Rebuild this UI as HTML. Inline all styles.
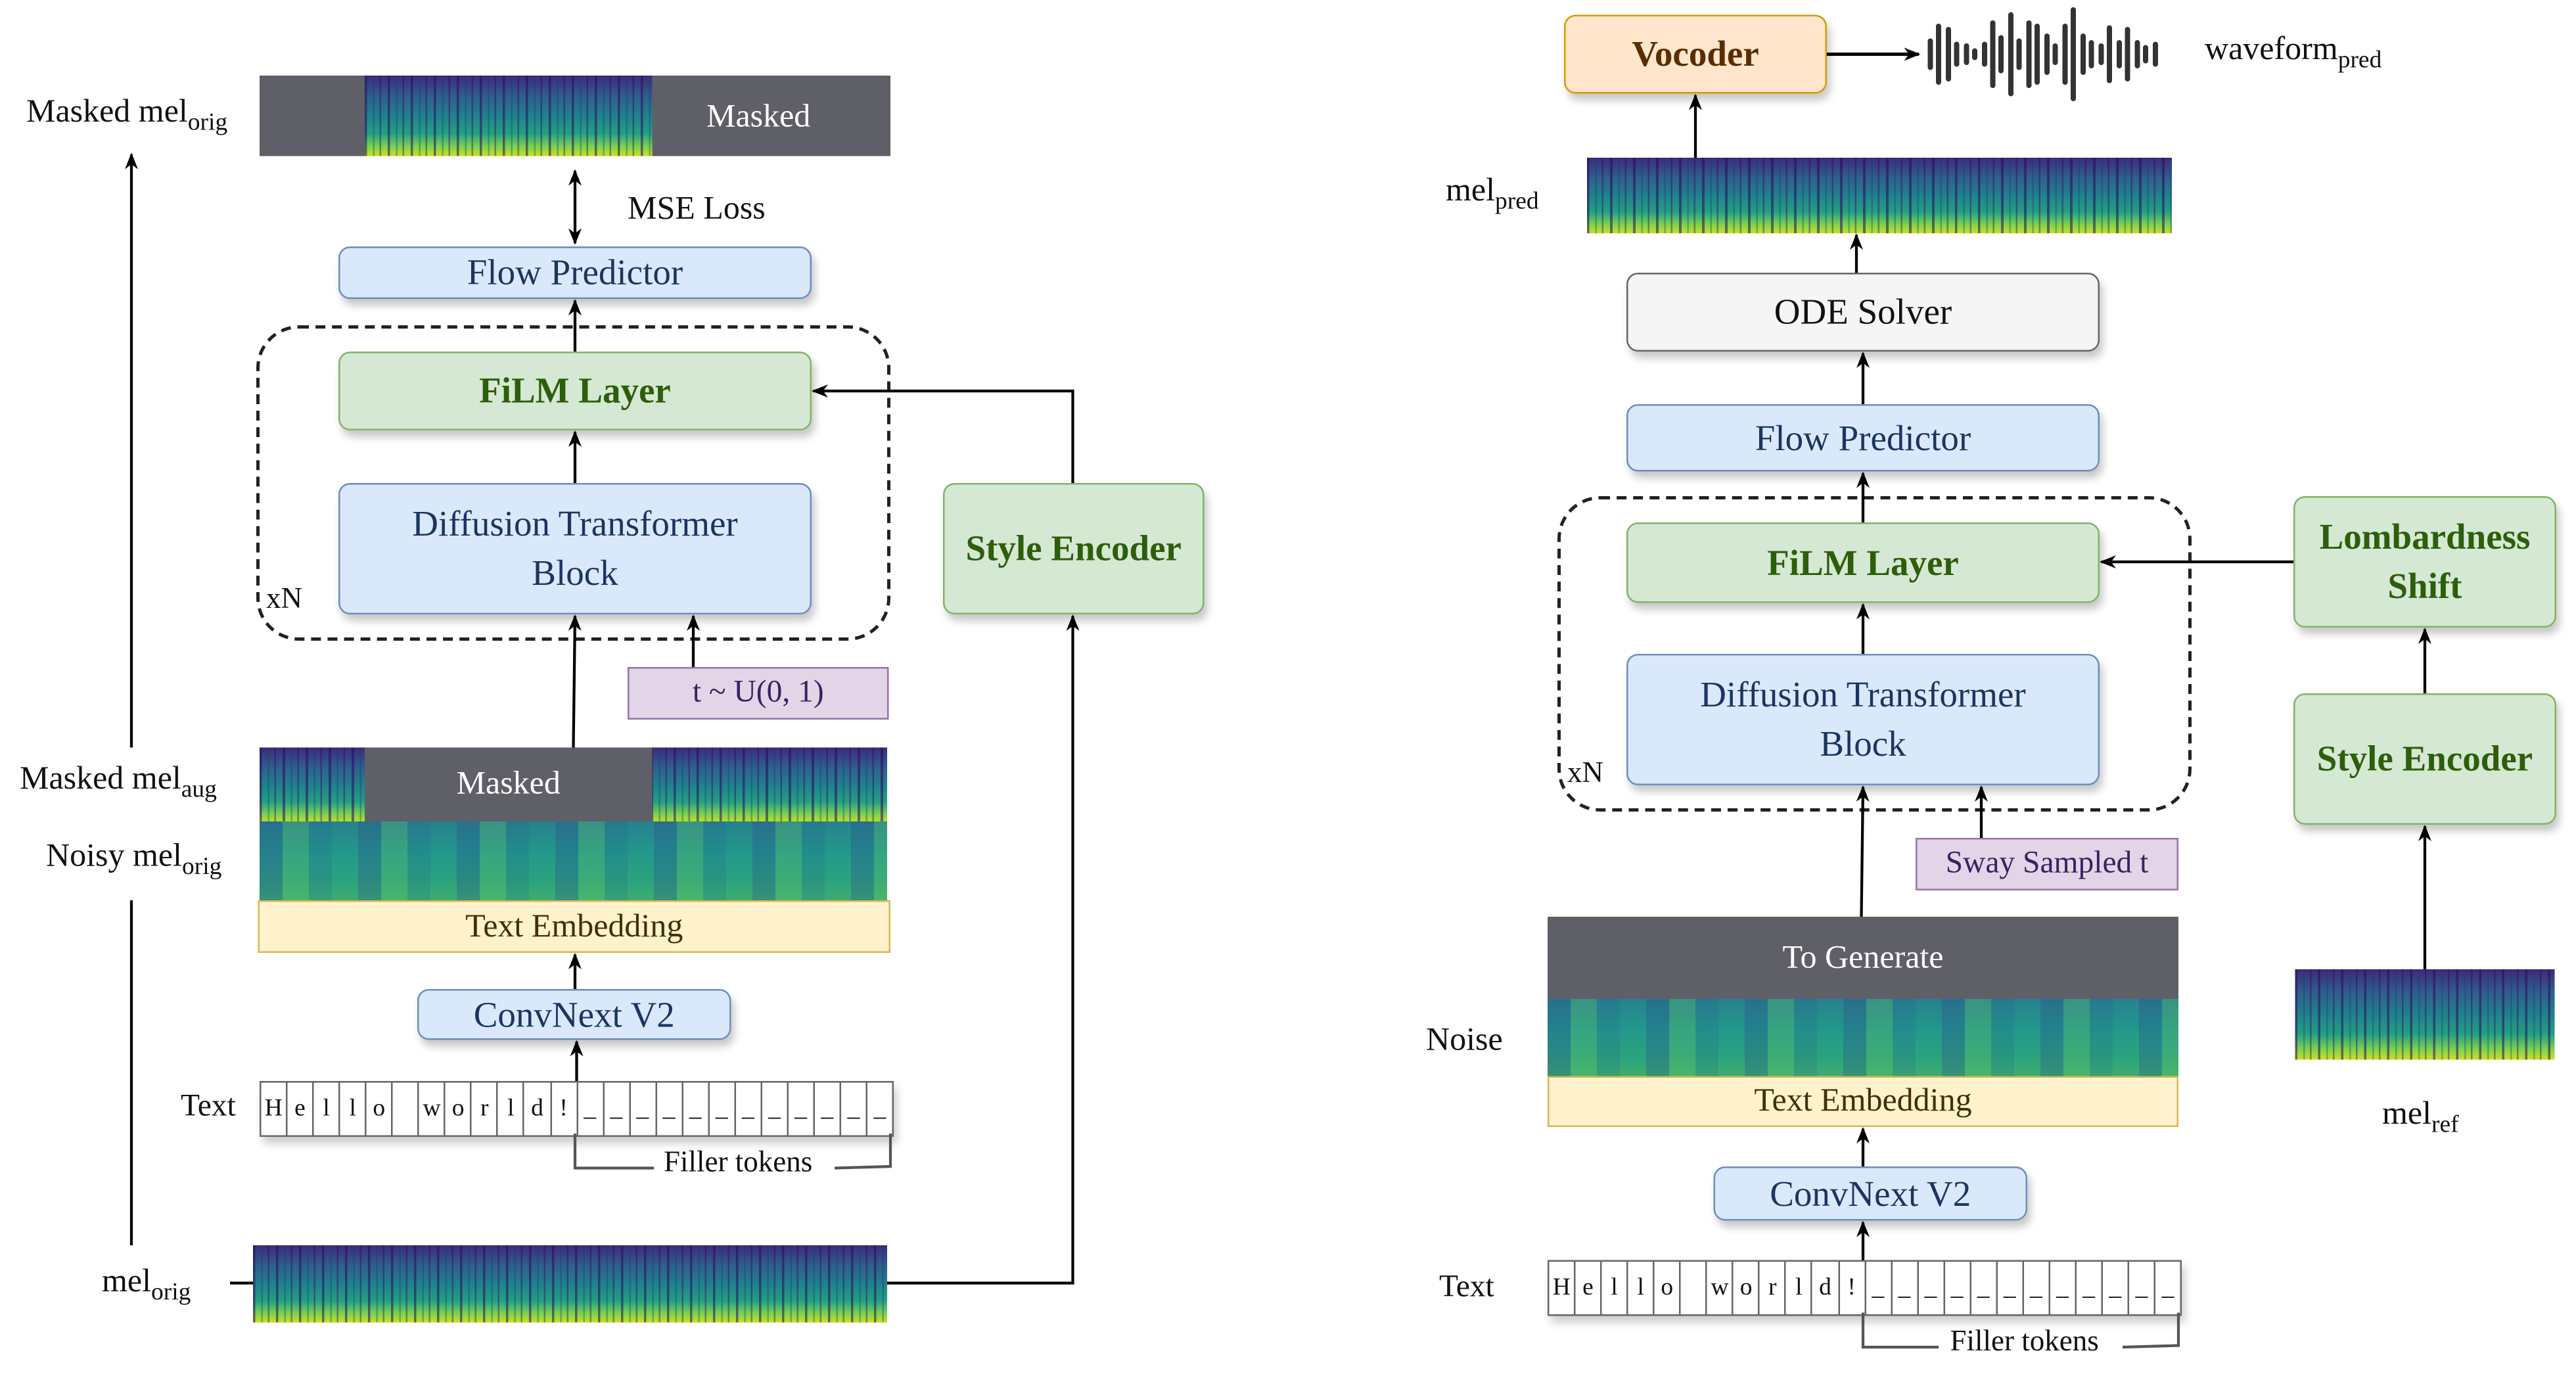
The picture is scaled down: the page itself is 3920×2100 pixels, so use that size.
<!DOCTYPE html>
<html><head><meta charset="utf-8"><style>
html,body{margin:0;padding:0;background:#fff;}
#wrap{width:3920px;height:2100px;overflow:hidden;position:relative;background:#fff;}
#c{position:absolute;left:0;top:0;width:1568px;height:840px;transform:scale(2.5);transform-origin:0 0;font-family:"Liberation Serif",serif;}
.a{position:absolute;box-sizing:border-box;}
.box{position:absolute;box-sizing:border-box;border-radius:7px;display:flex;align-items:center;justify-content:center;text-align:center;box-shadow:2px 4px 5px rgba(0,0,0,.22);line-height:1.35;}
.blue{background:#dae8fc;border:1.5px solid #6c8ebf;color:#1b355f;font-size:22px;}
.green{background:#d5e8d4;border:1.5px solid #82b366;color:#2d5e0a;font-size:22px;font-weight:bold;}
.purple{background:#e1d5e7;border:1.5px solid #9673a6;color:#3c2060;font-size:19px;border-radius:0;box-shadow:none;}
.yellow{background:#fff2cc;border:1.5px solid #d6b656;color:#3d3300;font-size:20px;border-radius:0;box-shadow:none;}
.lbl{position:absolute;font-size:20px;color:#111;white-space:nowrap;}
.lbl sub{font-size:15px;vertical-align:-5px;}
.spec{position:absolute;background:
 repeating-linear-gradient(90deg,rgba(40,10,90,.55) 0 1.5px,transparent 1.5px 5px,rgba(20,60,110,.35) 5px 6px,transparent 6px 9px,rgba(50,0,90,.4) 9px 10px,transparent 10px 14px),
 linear-gradient(180deg,#3d2a7a 0%,#2f5d8c 25%,#21808c 50%,#23a083 72%,#7ad151 88%,#c8e020 100%);}
.noisy{position:absolute;background:
 repeating-linear-gradient(90deg,rgba(40,60,140,.25) 0 14px,rgba(120,210,90,.22) 14px 30px,rgba(30,80,140,.15) 30px 44px,transparent 44px 60px),
 linear-gradient(180deg,#27818e 0%,#239a8a 45%,#2ba27e 75%,#3cae6e 100%);}
.dark{position:absolute;background:#5f5f68;color:#fff;font-size:20px;display:flex;align-items:center;justify-content:center;}
.cells{position:absolute;display:flex;border:1.5px solid #666;box-shadow:2px 4px 5px rgba(0,0,0,.2);background:#fff;}
.cells span{flex:1;border-right:1.5px solid #666;font-size:15px;display:flex;align-items:center;justify-content:center;color:#111;}
.cells span:last-child{border-right:none;}
.dash{position:absolute;box-sizing:border-box;border:2px dashed #222;border-radius:26px;}
</style></head><body><div id="wrap"><div id="c">

<!-- LEFT -->
<div class="dark" style="left:158px;top:46px;width:384px;height:49px;"><span style="position:absolute;left:272px;top:14px;">Masked</span></div>
<div class="spec" style="left:222px;top:46px;width:175px;height:49px;"></div>
<div class="lbl" style="left:16px;top:57px;">Masked mel<sub>orig</sub></div>
<div class="lbl" style="left:382px;top:116px;">MSE Loss</div>

<div class="box blue" style="left:206px;top:150px;width:288px;height:32px;">Flow Predictor</div>
<div class="dash" style="left:156px;top:198px;width:386px;height:192px;"></div>
<div class="box green" style="left:206px;top:214px;width:288px;height:48px;">FiLM Layer</div>
<div class="box blue" style="left:206px;top:294px;width:288px;height:80px;">Diffusion Transformer<br>Block</div>
<div class="lbl" style="left:162px;top:354px;font-size:18px;">xN</div>
<div class="box green" style="left:574px;top:294px;width:159px;height:80px;">Style Encoder</div>
<div class="box purple" style="left:382px;top:406px;width:159px;height:32px;">t ~ U(0, 1)</div>

<div class="spec" style="left:158px;top:455px;width:382px;height:46px;"></div>
<div class="dark" style="left:222px;top:455px;width:175px;height:45px;">Masked</div>
<div class="noisy" style="left:158px;top:500px;width:382px;height:48px;"></div>
<div class="lbl" style="left:12px;top:463px;">Masked mel<sub>aug</sub></div>
<div class="lbl" style="left:28px;top:510px;">Noisy mel<sub>orig</sub></div>
<div class="box yellow" style="left:157px;top:548px;width:385px;height:32px;">Text Embedding</div>
<div class="box blue" style="left:254px;top:602px;width:191px;height:31px;">ConvNext V2</div>
<div class="lbl" style="left:110px;top:663px;font-size:19px;">Text</div>
<div class="cells" style="left:158px;top:658px;width:384px;height:32px;">
<span>H</span><span>e</span><span>l</span><span>l</span><span>o</span><span></span><span>w</span><span>o</span><span>r</span><span>l</span><span>d</span><span>!</span><span>_</span><span>_</span><span>_</span><span>_</span><span>_</span><span>_</span><span>_</span><span>_</span><span>_</span><span>_</span><span>_</span><span>_</span></div>
<div class="lbl" style="left:404px;top:697px;font-size:18px;">Filler tokens</div>
<div class="spec" style="left:154px;top:758px;width:386px;height:47px;"></div>
<div class="lbl" style="left:62px;top:769px;">mel<sub>orig</sub></div>

<!-- RIGHT -->
<div class="box" style="left:952px;top:9px;width:160px;height:48px;background:#ffe6cc;border:1.5px solid #d79b00;color:#5a2d00;font-size:22px;font-weight:bold;">Vocoder</div>
<div class="lbl" style="left:1342px;top:19px;">waveform<sub>pred</sub></div>
<div class="spec" style="left:966px;top:96px;width:356px;height:46px;"></div>
<div class="lbl" style="left:880px;top:105px;">mel<sub>pred</sub></div>
<div class="box" style="left:990px;top:166px;width:288px;height:48px;background:#f5f5f5;border:1.5px solid #666;color:#111;font-size:22px;">ODE Solver</div>
<div class="box blue" style="left:990px;top:246px;width:288px;height:41px;">Flow Predictor</div>
<div class="dash" style="left:948px;top:302px;width:386px;height:192px;"></div>
<div class="box green" style="left:990px;top:318px;width:288px;height:49px;">FiLM Layer</div>
<div class="box blue" style="left:990px;top:398px;width:288px;height:80px;">Diffusion Transformer<br>Block</div>
<div class="lbl" style="left:954px;top:460px;font-size:18px;">xN</div>
<div class="box green" style="left:1396px;top:302px;width:160px;height:80px;">Lombardness<br>Shift</div>
<div class="box green" style="left:1396px;top:422px;width:160px;height:80px;">Style Encoder</div>
<div class="spec" style="left:1397px;top:590px;width:158px;height:55px;"></div>
<div class="lbl" style="left:1450px;top:667px;">mel<sub>ref</sub></div>
<div class="box purple" style="left:1166px;top:510px;width:160px;height:32px;">Sway Sampled t</div>
<div class="dark" style="left:942px;top:558px;width:384px;height:50px;">To Generate</div>
<div class="noisy" style="left:942px;top:608px;width:384px;height:47px;"></div>
<div class="lbl" style="left:868px;top:622px;">Noise</div>
<div class="box yellow" style="left:942px;top:655px;width:384px;height:31px;">Text Embedding</div>
<div class="box blue" style="left:1043px;top:710px;width:191px;height:33px;">ConvNext V2</div>
<div class="lbl" style="left:876px;top:773px;font-size:19px;">Text</div>
<div class="cells" style="left:942px;top:767px;width:384px;height:32px;">
<span>H</span><span>e</span><span>l</span><span>l</span><span>o</span><span></span><span>w</span><span>o</span><span>r</span><span>l</span><span>d</span><span>!</span><span>_</span><span>_</span><span>_</span><span>_</span><span>_</span><span>_</span><span>_</span><span>_</span><span>_</span><span>_</span><span>_</span><span>_</span></div>
<div class="lbl" style="left:1187px;top:806px;font-size:18px;">Filler tokens</div>

<svg class="a" style="left:0;top:0;" width="1568" height="840" viewBox="0 0 1568 840">
<defs><marker id="ar" markerWidth="10" markerHeight="10" refX="9" refY="5" orient="auto" markerUnits="userSpaceOnUse"><path d="M0,1 L10,5 L0,9 L3,5 z" fill="#000"/></marker>
<marker id="as" markerWidth="10" markerHeight="10" refX="9" refY="5" orient="auto-start-reverse" markerUnits="userSpaceOnUse"><path d="M0,1 L10,5 L0,9 L3,5 z" fill="#000"/></marker></defs>
<g stroke="#000" stroke-width="1.7" fill="none">
<!-- left -->
<line x1="80" y1="455" x2="80" y2="94" marker-end="url(#ar)"/>
<line x1="80" y1="548" x2="80" y2="758"/>
<line x1="350" y1="148" x2="350" y2="104" marker-end="url(#as)" marker-start="url(#as)"/>
<line x1="350" y1="214" x2="350" y2="183" marker-end="url(#ar)"/>
<line x1="350" y1="294" x2="350" y2="263" marker-end="url(#ar)"/>
<polyline points="653,294 653,238 495,238" marker-end="url(#ar)"/>
<polyline points="540,781 653,781 653,375" marker-end="url(#ar)"/>
<line x1="140" y1="781" x2="154" y2="781"/>
<line x1="422" y1="406" x2="422" y2="375" marker-end="url(#ar)"/>
<line x1="349" y1="455" x2="350" y2="375" marker-end="url(#ar)"/>
<line x1="350" y1="602" x2="350" y2="581" marker-end="url(#ar)"/>
<line x1="351" y1="658" x2="351" y2="634" marker-end="url(#ar)"/>
<polyline points="350,690 350,711 398,711" stroke="#555"/>
<polyline points="508,711 542,710 542,690" stroke="#555"/>
<!-- right -->
<line x1="1112" y1="33" x2="1168" y2="33" marker-end="url(#ar)" stroke-width="2"/>
<line x1="1032" y1="96" x2="1032" y2="58" marker-end="url(#ar)"/>
<line x1="1130" y1="166" x2="1130" y2="143" marker-end="url(#ar)"/>
<line x1="1134" y1="246" x2="1134" y2="215" marker-end="url(#ar)"/>
<line x1="1134" y1="318" x2="1134" y2="288" marker-end="url(#ar)"/>
<line x1="1134" y1="398" x2="1134" y2="368" marker-end="url(#ar)"/>
<line x1="1396" y1="342" x2="1279" y2="342" marker-end="url(#ar)"/>
<line x1="1476" y1="422" x2="1476" y2="383" marker-end="url(#ar)"/>
<line x1="1476" y1="590" x2="1476" y2="503" marker-end="url(#ar)"/>
<line x1="1206" y1="510" x2="1206" y2="479" marker-end="url(#ar)"/>
<line x1="1133" y1="558" x2="1134" y2="479" marker-end="url(#ar)"/>
<line x1="1134" y1="710" x2="1134" y2="687" marker-end="url(#ar)"/>
<line x1="1134" y1="767" x2="1134" y2="744" marker-end="url(#ar)"/>
<polyline points="1134,799 1134,820 1180,820" stroke="#555"/>
<polyline points="1292,820 1326,819 1326,799" stroke="#555"/>
</g>
<g stroke="#333" stroke-width="3.2" stroke-linecap="round">
<line x1="1175" y1="25" x2="1175" y2="41"/><line x1="1180" y1="16" x2="1180" y2="50"/><line x1="1186" y1="18" x2="1186" y2="48"/><line x1="1191" y1="27" x2="1191" y2="39"/><line x1="1197" y1="28" x2="1197" y2="38"/><line x1="1202" y1="31" x2="1202" y2="35"/><line x1="1208" y1="27" x2="1208" y2="39"/><line x1="1213" y1="14" x2="1213" y2="52"/><line x1="1218" y1="23" x2="1218" y2="43"/><line x1="1224" y1="9" x2="1224" y2="57"/><line x1="1229" y1="25" x2="1229" y2="41"/><line x1="1235" y1="14" x2="1235" y2="52"/><line x1="1240" y1="16" x2="1240" y2="50"/><line x1="1246" y1="22" x2="1246" y2="44"/><line x1="1251" y1="28" x2="1251" y2="38"/><line x1="1257" y1="16" x2="1257" y2="50"/><line x1="1262" y1="6" x2="1262" y2="60"/><line x1="1268" y1="22" x2="1268" y2="44"/><line x1="1273" y1="26" x2="1273" y2="40"/><line x1="1279" y1="28" x2="1279" y2="38"/><line x1="1284" y1="17" x2="1284" y2="49"/><line x1="1290" y1="26" x2="1290" y2="40"/><line x1="1295" y1="18" x2="1295" y2="48"/><line x1="1301" y1="26" x2="1301" y2="40"/><line x1="1306" y1="29" x2="1306" y2="37"/><line x1="1312" y1="27" x2="1312" y2="39"/>
</g>
</svg>
</div></div></body></html>
